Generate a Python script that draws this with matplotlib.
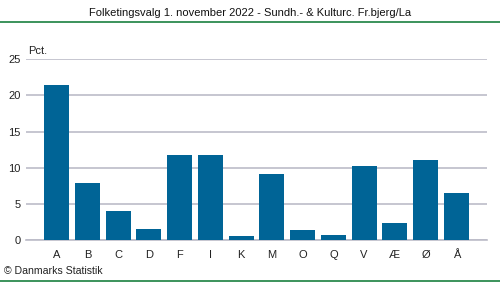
import matplotlib
matplotlib.use("Agg")
import matplotlib.pyplot as plt
from matplotlib.lines import Line2D

categories = ["A", "B", "C", "D", "F", "I", "K", "M", "O", "Q", "V", "Æ", "Ø", "Å"]
values = [21.4, 7.9, 4.0, 1.5, 11.8, 11.8, 0.55, 9.1, 1.4, 0.7, 10.3, 2.35, 11.1, 6.5]
yticks = [0, 5, 10, 15, 20, 25]

plt.rcParams['font.family'] = ['Liberation Sans', 'DejaVu Sans']
fig = plt.figure(figsize=(5, 2.82), dpi=100)
ax = fig.add_axes([0.052, 0.149, 0.922, 0.641])
x = list(range(len(categories)))
ax.bar(x, values, width=0.81, color="#006496", zorder=3)
ax.set_xlim(-1, len(categories))
ax.set_ylim(0, 25)
ax.set_yticks(yticks)
ax.set_xticks(x)
ax.set_xticklabels(categories)
ax.grid(axis='y', color="#bcbcc8", linewidth=1.2, zorder=0)
for s in ["top", "right", "left"]:
    ax.spines[s].set_visible(False)
ax.spines["bottom"].set_color("#bcbcc8")
ax.spines["bottom"].set_linewidth(1.2)
ax.tick_params(axis='both', length=0, labelsize=8, colors="#222222")
ax.tick_params(axis='x', pad=7)
ax.tick_params(axis='y', pad=4)
ax.text(0.0045, 1.02, "Pct.", transform=ax.transAxes, fontsize=8, ha='left', va='bottom', color="#222222")

fig.text(0.5, 0.955, "Folketingsvalg 1. november 2022 - Sundh.- & Kulturc. Fr.bjerg/La",
         ha='center', va='center', fontsize=8, color="#111111")
fig.text(0.008, 0.04, "© Danmarks Statistik", ha='left', va='center', fontsize=7.6, color="#222222")
fig.add_artist(Line2D([0, 1], [0.922, 0.922], transform=fig.transFigure, color="#1a8040", linewidth=1.2))
fig.add_artist(Line2D([0, 1], [0.005, 0.005], transform=fig.transFigure, color="#1a8040", linewidth=1.2))

fig.savefig("out.png", dpi=100)
